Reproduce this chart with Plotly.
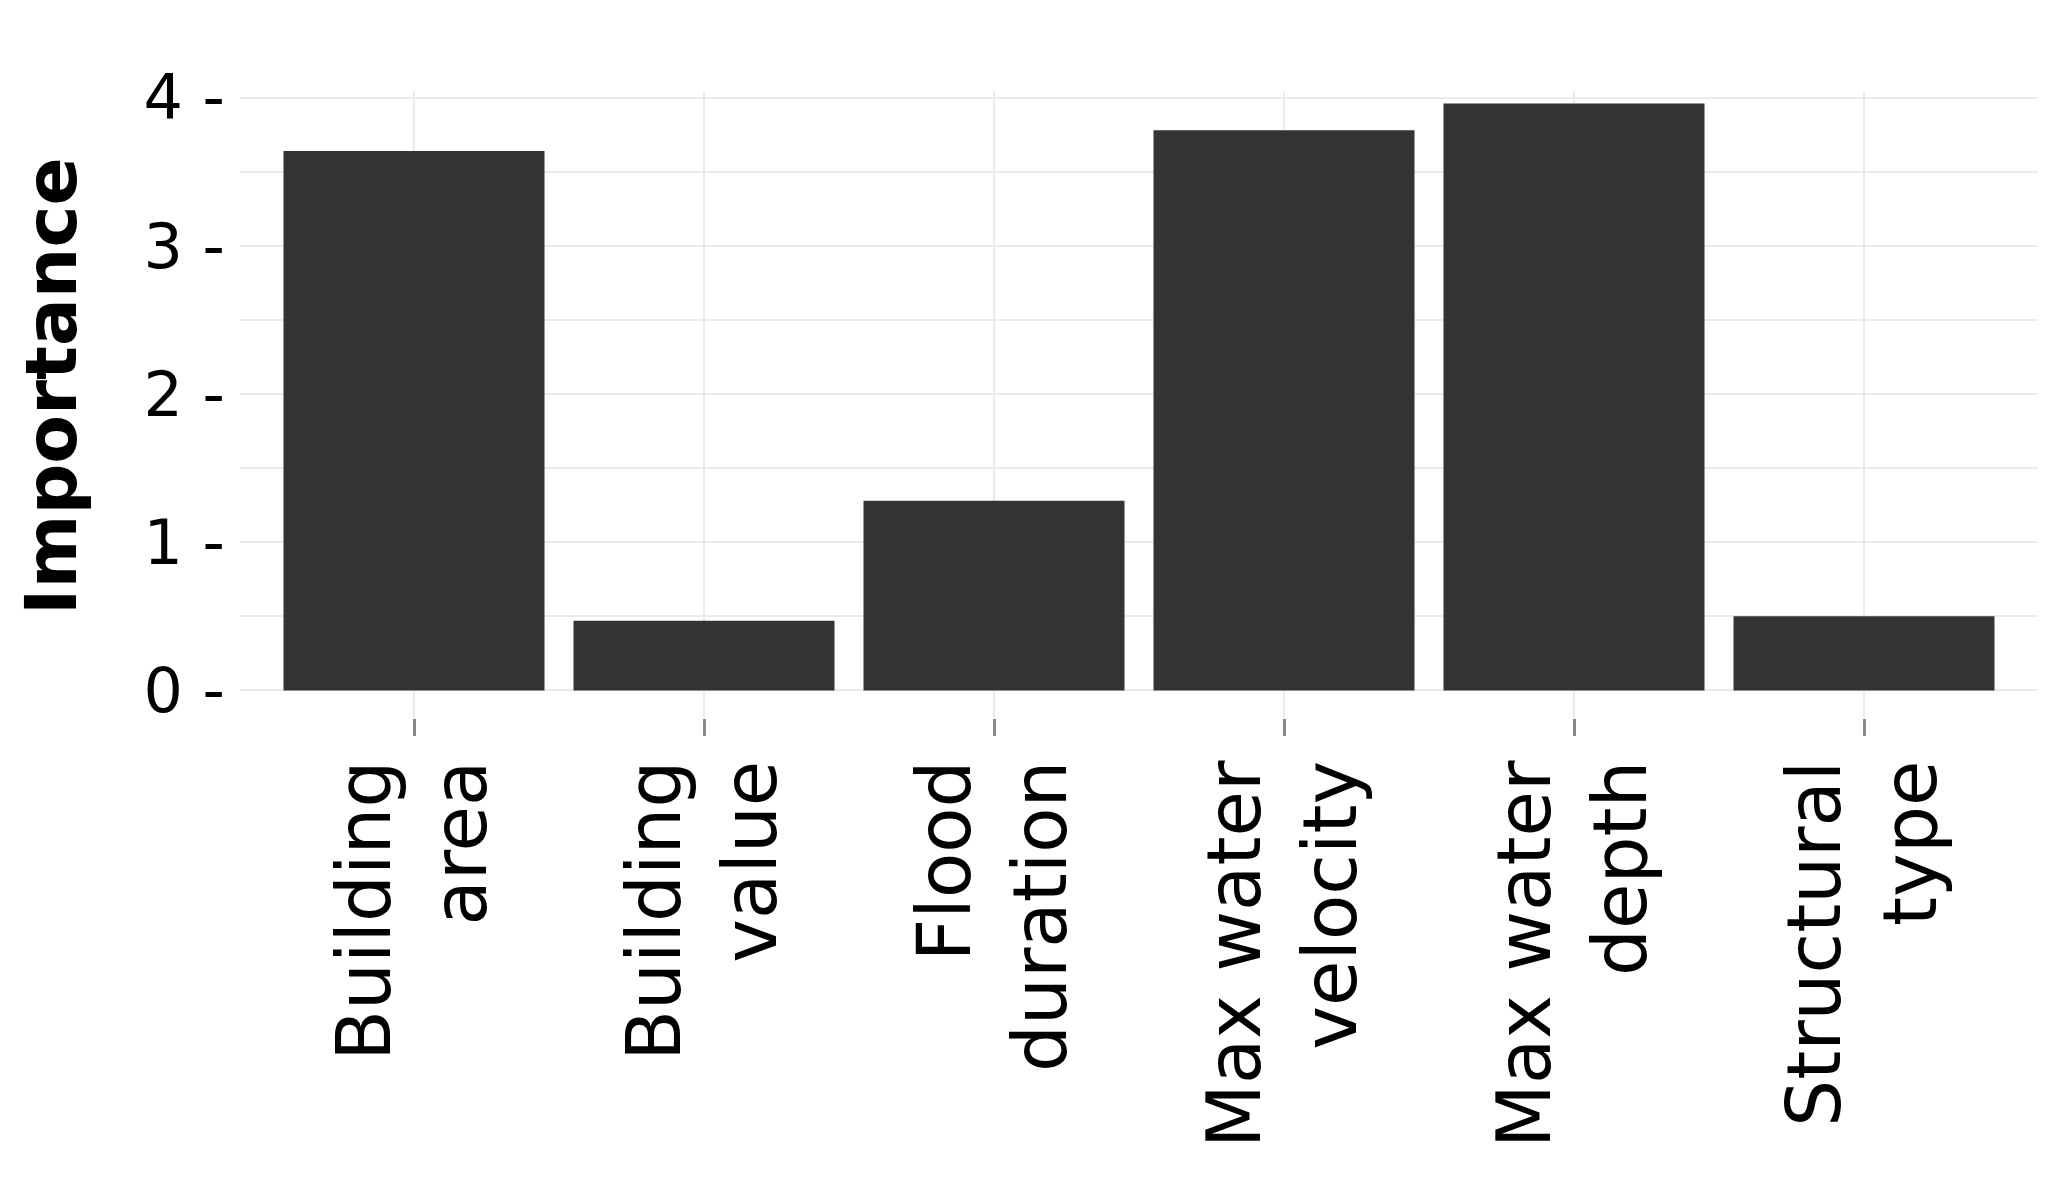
import plotly.graph_objects as go

categories = ["Building<br>area", "Building<br>value", "Flood<br>duration",
              "Max water<br>velocity", "Max water<br>depth", "Structural<br>type"]
importance = [3.64, 0.47, 1.28, 3.78, 3.96, 0.50]
y_ticks = [0, 1, 2, 3, 4]
y_tick_labels = ["0 -", "1 -", "2 -", "3 -", "4 -"]

W, H = 2066, 1200
L, R, T, B = 232, 36, 84, 490

fig = go.Figure(go.Bar(
    x=categories, y=importance,
    marker=dict(color="#333333", line=dict(width=0)),
    width=0.9,
))

font_family = "DejaVu Sans"

fig.update_layout(
    width=W, height=H,
    margin=dict(l=L, r=R, t=T, b=B, autoexpand=False),
    paper_bgcolor="white", plot_bgcolor="white",
    showlegend=False,
    font=dict(family=font_family, color="black"),
    xaxis=dict(
        range=[-0.6, 5.6],
        tickangle=-90,
        tickfont=dict(size=74, family=font_family, color="black"),
        showgrid=True, gridcolor="#ebebeb", gridwidth=2,
        ticks="outside", ticklen=17, tickwidth=3, tickcolor="#888888",
        showline=False, zeroline=False,
        ticklabelstandoff=-5,
    ),
    yaxis=dict(
        range=[-0.186, 4.038],
        tickvals=y_ticks, ticktext=y_tick_labels,
        tickfont=dict(size=62, family=font_family, color="black"),
        showgrid=True, gridcolor="#ebebeb", gridwidth=2,
        minor=dict(showgrid=True, dtick=0.5, gridcolor="#ebebeb", gridwidth=2),
        ticks="", showline=False, zeroline=False,
        ticklabelstandoff=14,
    ),
    annotations=[dict(
        text="<b>Importance</b>", textangle=-90,
        xref="paper", yref="paper",
        x=(43 - L) / (W - L - R), y=(H - B - 378) / (H - T - B),
        xanchor="center", yanchor="middle", showarrow=False,
        font=dict(size=71, family=font_family, color="black"),
    )],
)

fig.write_html("out.html")
